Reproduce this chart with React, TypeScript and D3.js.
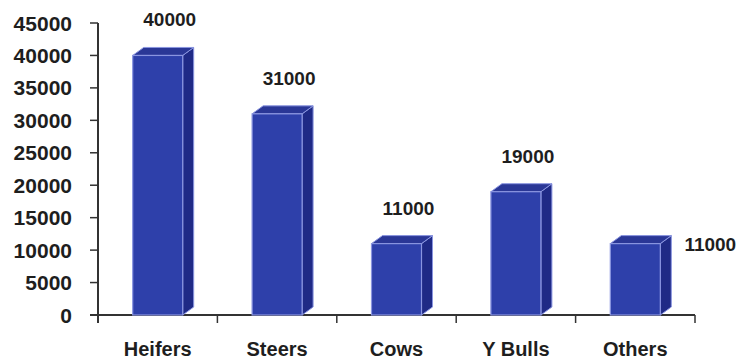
import React from "react";
import * as d3 from "d3";

const categories = ["Heifers", "Steers", "Cows", "Y Bulls", "Others"];
const values = [40000, 31000, 11000, 19000, 11000];
const yTicks = [0, 5000, 10000, 15000, 20000, 25000, 30000, 35000, 40000, 45000];

const W = 747, H = 362;
const left = 98, right = 695, top = 23, bottom = 315;
const depthX = 11, depthY = 8, barW = 50;
const FONT = "'Liberation Sans', Arial, sans-serif";
const TXT = "#1e1e1e";

export default function App() {
  const x = d3.scaleBand<string>().domain(categories).range([left, right]).padding(0);
  const y = d3.scaleLinear().domain([0, 45000]).range([bottom, top]);
  const bw = x.bandwidth();

  return (
    <svg width={W} height={H} style={{ position: "absolute", left: 0, top: 0, background: "#fff" }}>
      {/* axes */}
      <line x1={left} x2={left} y1={top} y2={bottom + 8} stroke="#333" strokeWidth={2} />
      <line x1={left - 8} x2={right} y1={bottom} y2={bottom} stroke="#333" strokeWidth={2} />
      {yTicks.map((t) => (
        <g key={t}>
          <line x1={left - 8} x2={left} y1={y(t)} y2={y(t)} stroke="#333" strokeWidth={1.5} />
          <text x={72} y={y(t) + 7.5} textAnchor="end" fontFamily={FONT} fontWeight="bold" fontSize={21} fill={TXT}>
            {t}
          </text>
        </g>
      ))}
      {categories.map((c, i) => (
        <line key={"xt" + i} x1={(x(c) as number) + bw} x2={(x(c) as number) + bw} y1={bottom} y2={bottom + 8} stroke="#333" strokeWidth={1.5} />
      ))}
      {/* bars */}
      {categories.map((c, i) => {
        const cx = (x(c) as number) + bw / 2;
        const x0 = cx - barW / 2;
        const x1 = cx + barW / 2;
        const yt = y(values[i]);
        const yb = y(0);
        const isLast = i === categories.length - 1;
        return (
          <g key={c}>
            <polygon
              points={`${x1},${yt} ${x1 + depthX},${yt - depthY} ${x1 + depthX},${yb - depthY} ${x1},${yb}`}
              fill="#1f2a86"
              stroke="#8a95e0"
              strokeWidth={1}
            />
            <polygon
              points={`${x0},${yt} ${x0 + depthX},${yt - depthY} ${x1 + depthX},${yt - depthY} ${x1},${yt}`}
              fill="#2a3796"
              stroke="#8a95e0"
              strokeWidth={1}
            />
            <rect x={x0} y={yt} width={barW} height={yb - yt} fill="#2e40aa" stroke="#8a95e0" strokeWidth={1.2} />
            <text
              x={isLast ? x1 + 50 : cx + 12}
              y={isLast ? yt + 7 : yt - 29}
              textAnchor="middle"
              fontFamily={FONT}
              fontWeight="bold"
              fontSize={19}
              fill={TXT}
            >
              {values[i]}
            </text>
            <text x={cx} y={356} textAnchor="middle" fontFamily={FONT} fontWeight="bold" fontSize={20} fill={TXT}>
              {c}
            </text>
          </g>
        );
      })}
    </svg>
  );
}
